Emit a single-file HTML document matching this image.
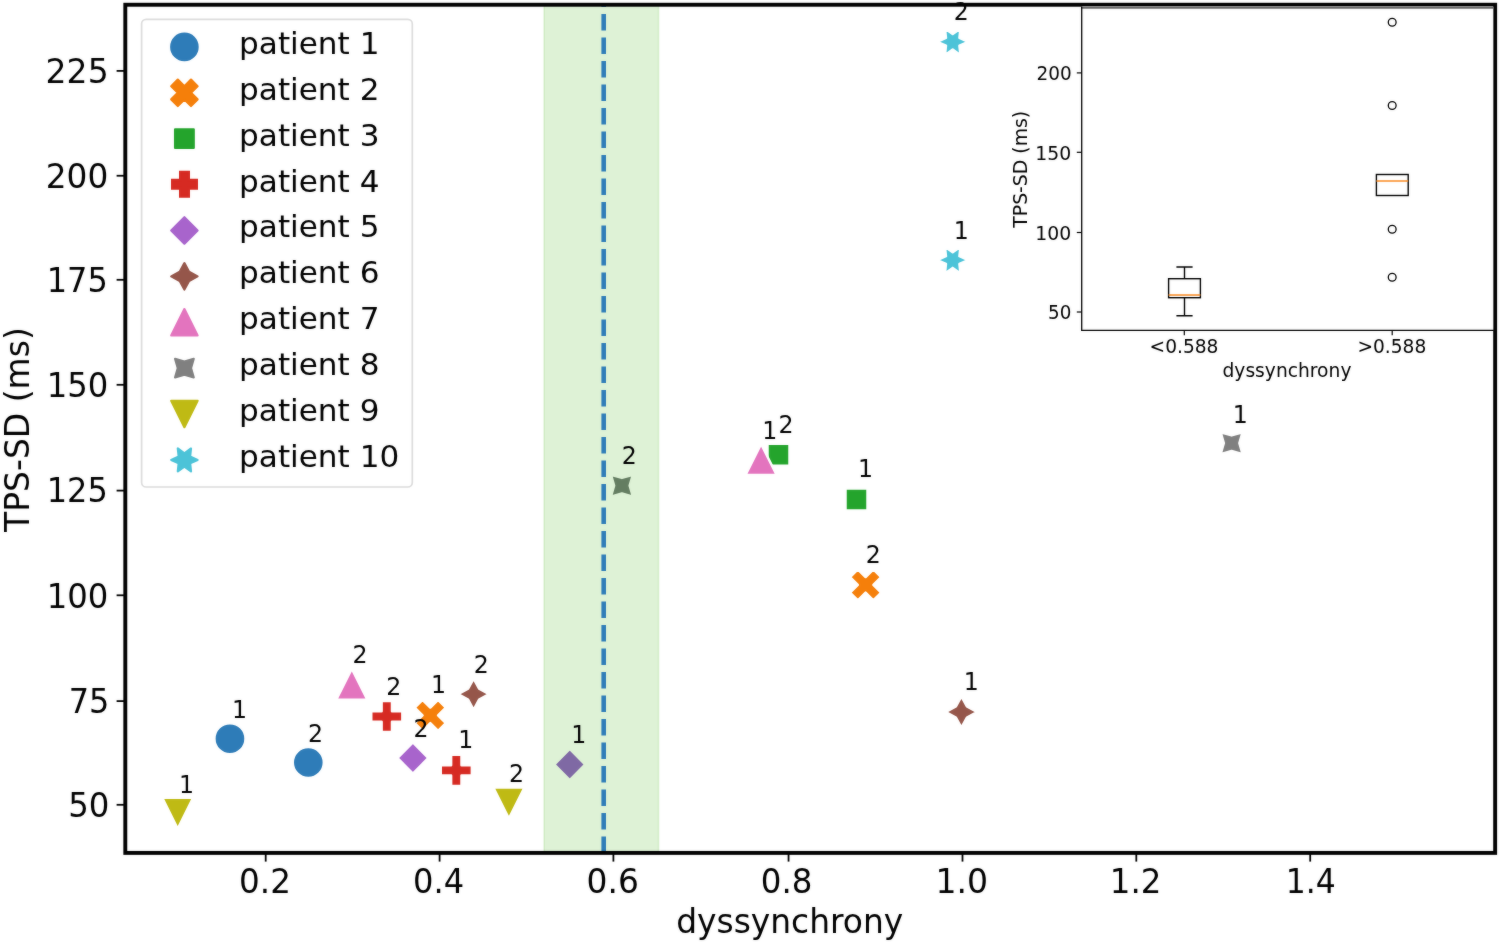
<!DOCTYPE html>
<html lang="en">
<head>
<meta charset="utf-8">
<title>TPS-SD vs dyssynchrony</title>
<style>html,body{margin:0;padding:0;background:#fff;}body{width:1499px;height:948px;overflow:hidden;}svg{display:block;}</style>
</head>
<body>
<svg width="1499" height="948" viewBox="0 0 1499 948" font-family='"DejaVu Sans", "Liberation Sans", sans-serif' fill="#000">
<defs><filter id="soft" x="0" y="0" width="1499" height="948" filterUnits="userSpaceOnUse" color-interpolation-filters="sRGB"><feGaussianBlur in="SourceGraphic" stdDeviation="0.9" result="b"/><feComposite in="b" in2="SourceGraphic" operator="arithmetic" k1="0" k2="0.3" k3="0.7" k4="0"/></filter></defs>
<g filter="url(#soft)">
<rect x="0" y="0" width="1499" height="948" fill="#fff"/>
<g>
<circle cx="229.95" cy="738.70" r="15.55" fill="#2e7cb8" stroke="#fff" stroke-width="2.49" stroke-linejoin="round"/>
<circle cx="308.30" cy="762.50" r="15.55" fill="#2e7cb8" stroke="#fff" stroke-width="2.49" stroke-linejoin="round"/>
<polygon points="422.53,730.85 430.30,723.07 438.07,730.85 445.85,723.07 438.07,715.30 445.85,707.52 438.07,699.75 430.30,707.52 422.53,699.75 414.75,707.52 422.53,715.30 414.75,723.07" fill="#f57f0a" stroke="#fff" stroke-width="2.49" stroke-linejoin="round"/>
<polygon points="857.83,600.35 865.60,592.57 873.38,600.35 881.15,592.57 873.38,584.80 881.15,577.02 873.38,569.25 865.60,577.02 857.83,569.25 850.05,577.02 857.83,584.80 850.05,592.57" fill="#f57f0a" stroke="#fff" stroke-width="2.49" stroke-linejoin="round"/>
<polygon points="845.50,488.40 845.50,510.40 867.50,510.40 867.50,488.40" fill="#24a42c" stroke="#fff" stroke-width="2.49" stroke-linejoin="round"/>
<polygon points="767.50,443.70 767.50,465.70 789.50,465.70 789.50,443.70" fill="#24a42c" stroke="#fff" stroke-width="2.49" stroke-linejoin="round"/>
<polygon points="451.12,785.95 461.48,785.95 461.48,775.58 471.85,775.58 471.85,765.22 461.48,765.22 461.48,754.85 451.12,754.85 451.12,765.22 440.75,765.22 440.75,775.58 451.12,775.58" fill="#d62a22" stroke="#fff" stroke-width="2.49" stroke-linejoin="round"/>
<polygon points="381.62,732.05 391.98,732.05 391.98,721.68 402.35,721.68 402.35,711.32 391.98,711.32 391.98,700.95 381.62,700.95 381.62,711.32 371.25,711.32 371.25,721.68 381.62,721.68" fill="#d62a22" stroke="#fff" stroke-width="2.49" stroke-linejoin="round"/>
<polygon points="569.75,748.95 554.20,764.50 569.75,780.05 585.30,764.50" fill="#8e5bc4" stroke="#fff" stroke-width="2.49" stroke-linejoin="round"/>
<polygon points="412.90,742.45 397.35,758.00 412.90,773.55 428.45,758.00" fill="#a864cc" stroke="#fff" stroke-width="2.49" stroke-linejoin="round"/>
<polygon points="961.40,696.45 955.90,706.50 945.85,712.00 955.90,717.50 961.40,727.55 966.90,717.50 976.95,712.00 966.90,706.50" fill="#95564a" stroke="#fff" stroke-width="2.49" stroke-linejoin="round"/>
<polygon points="473.60,678.65 468.10,688.70 458.05,694.20 468.10,699.70 473.60,709.75 479.10,699.70 489.15,694.20 479.10,688.70" fill="#95564a" stroke="#fff" stroke-width="2.49" stroke-linejoin="round"/>
<polygon points="761.10,443.95 745.55,475.05 776.65,475.05" fill="#e374be" stroke="#fff" stroke-width="2.49" stroke-linejoin="round"/>
<polygon points="351.80,668.65 336.25,699.75 367.35,699.75" fill="#e374be" stroke="#fff" stroke-width="2.49" stroke-linejoin="round"/>
<polygon points="1220.60,432.20 1223.82,443.20 1220.60,454.20 1231.60,450.97 1242.60,454.20 1239.38,443.20 1242.60,432.20 1231.60,435.43" fill="#808080" stroke="#fff" stroke-width="2.49" stroke-linejoin="round"/>
<polygon points="610.90,474.70 614.12,485.70 610.90,496.70 621.90,493.47 632.90,496.70 629.67,485.70 632.90,474.70 621.90,477.93" fill="#6d7374" stroke="#fff" stroke-width="2.49" stroke-linejoin="round"/>
<polygon points="177.70,828.75 193.25,797.65 162.15,797.65" fill="#bfba14" stroke="#fff" stroke-width="2.49" stroke-linejoin="round"/>
<polygon points="508.90,818.65 524.45,787.55 493.35,787.55" fill="#bfba14" stroke="#fff" stroke-width="2.49" stroke-linejoin="round"/>
<polygon points="944.93,246.63 945.97,256.21 937.15,260.10 945.97,263.99 944.93,273.57 952.70,267.88 960.48,273.57 959.43,263.99 968.25,260.10 959.43,256.21 960.48,246.63 952.70,252.33" fill="#4cc3d8" stroke="#fff" stroke-width="2.49" stroke-linejoin="round"/>
<polygon points="944.93,28.38 945.97,37.96 937.15,41.85 945.97,45.74 944.93,55.32 952.70,49.62 960.48,55.32 959.43,45.74 968.25,41.85 959.43,37.96 960.48,28.38 952.70,34.08" fill="#4cc3d8" stroke="#fff" stroke-width="2.49" stroke-linejoin="round"/>
</g>
<rect x="544.0" y="4.75" width="114.6" height="848.1" fill="#37b008" fill-opacity="0.165" stroke="#37b008" stroke-opacity="0.12" stroke-width="1.6"/>
<line x1="603.7" y1="852.9" x2="603.7" y2="4.75" stroke="#2e7cb8" stroke-width="4.6" stroke-dasharray="16.5 7.0"/>
<line x1="265.70" y1="852.9" x2="265.70" y2="861.6" stroke="#000" stroke-width="1.8"/>
<text transform="translate(239.08 893.30) scale(0.9644 1)" font-size="33.8">0.2</text>
<line x1="439.60" y1="852.9" x2="439.60" y2="861.6" stroke="#000" stroke-width="1.8"/>
<text transform="translate(413.01 893.30) scale(0.9500 1)" font-size="33.8">0.4</text>
<line x1="613.40" y1="852.9" x2="613.40" y2="861.6" stroke="#000" stroke-width="1.8"/>
<text transform="translate(586.56 893.30) scale(0.9730 1)" font-size="33.8">0.6</text>
<line x1="788.55" y1="852.9" x2="788.55" y2="861.6" stroke="#000" stroke-width="1.8"/>
<text transform="translate(760.79 893.30) scale(0.9601 1)" font-size="33.8">0.8</text>
<line x1="962.50" y1="852.9" x2="962.50" y2="861.6" stroke="#000" stroke-width="1.8"/>
<text transform="translate(935.46 893.30) scale(0.9785 1)" font-size="33.8">1.0</text>
<line x1="1136.30" y1="852.9" x2="1136.30" y2="861.6" stroke="#000" stroke-width="1.8"/>
<text transform="translate(1109.83 893.30) scale(0.9605 1)" font-size="33.8">1.2</text>
<line x1="1310.20" y1="852.9" x2="1310.20" y2="861.6" stroke="#000" stroke-width="1.8"/>
<text transform="translate(1285.85 893.30) scale(0.9291 1)" font-size="33.8">1.4</text>
<line x1="125.3" y1="70.90" x2="116.6" y2="70.90" stroke="#000" stroke-width="1.8"/>
<text transform="translate(45.61 82.50) scale(0.9772 1)" font-size="33.8">225</text>
<line x1="125.3" y1="175.75" x2="116.6" y2="175.75" stroke="#000" stroke-width="1.8"/>
<text transform="translate(45.72 187.70) scale(0.9695 1)" font-size="33.8">200</text>
<line x1="125.3" y1="279.80" x2="116.6" y2="279.80" stroke="#000" stroke-width="1.8"/>
<text transform="translate(46.68 292.30) scale(0.9467 1)" font-size="33.8">175</text>
<line x1="125.3" y1="384.80" x2="116.6" y2="384.80" stroke="#000" stroke-width="1.8"/>
<text transform="translate(46.65 397.20) scale(0.9546 1)" font-size="33.8">150</text>
<line x1="125.3" y1="490.60" x2="116.6" y2="490.60" stroke="#000" stroke-width="1.8"/>
<text transform="translate(46.68 502.30) scale(0.9467 1)" font-size="33.8">125</text>
<line x1="125.3" y1="595.30" x2="116.6" y2="595.30" stroke="#000" stroke-width="1.8"/>
<text transform="translate(46.65 607.70) scale(0.9546 1)" font-size="33.8">100</text>
<line x1="125.3" y1="701.10" x2="116.6" y2="701.10" stroke="#000" stroke-width="1.8"/>
<text transform="translate(68.66 712.60) scale(0.9451 1)" font-size="33.8">75</text>
<line x1="125.3" y1="804.80" x2="116.6" y2="804.80" stroke="#000" stroke-width="1.8"/>
<text transform="translate(68.19 816.60) scale(0.9583 1)" font-size="33.8">50</text>
<rect x="125.3" y="4.75" width="1369.85" height="848.15" fill="none" stroke="#000" stroke-width="3.9"/>
<text transform="translate(676.19 932.60) scale(0.9971 1)" font-size="33.0">dyssynchrony</text>
<text transform="translate(29.3 429.6) rotate(-90)" font-size="33.0" text-anchor="middle">TPS-SD (ms)</text>
<text transform="translate(231.95 717.80) scale(0.9250 1)" font-size="25.6">1</text>
<text transform="translate(307.93 741.50) scale(0.9250 1)" font-size="25.6">2</text>
<text transform="translate(430.95 693.40) scale(0.9250 1)" font-size="25.6">1</text>
<text transform="translate(865.63 562.70) scale(0.9250 1)" font-size="25.6">2</text>
<text transform="translate(858.05 476.70) scale(0.9250 1)" font-size="25.6">1</text>
<text transform="translate(778.53 433.40) scale(0.9250 1)" font-size="25.6">2</text>
<text transform="translate(458.15 747.70) scale(0.9250 1)" font-size="25.6">1</text>
<text transform="translate(386.33 695.40) scale(0.9250 1)" font-size="25.6">2</text>
<text transform="translate(571.35 743.30) scale(0.9250 1)" font-size="25.6">1</text>
<text transform="translate(413.53 736.70) scale(0.9250 1)" font-size="25.6">2</text>
<text transform="translate(963.85 690.30) scale(0.9250 1)" font-size="25.6">1</text>
<text transform="translate(473.73 672.90) scale(0.9250 1)" font-size="25.6">2</text>
<text transform="translate(762.25 438.50) scale(0.9250 1)" font-size="25.6">1</text>
<text transform="translate(352.53 663.30) scale(0.9250 1)" font-size="25.6">2</text>
<text transform="translate(1232.85 422.50) scale(0.9250 1)" font-size="25.6">1</text>
<text transform="translate(621.73 463.80) scale(0.9250 1)" font-size="25.6">2</text>
<text transform="translate(179.05 792.60) scale(0.9250 1)" font-size="25.6">1</text>
<text transform="translate(508.93 781.50) scale(0.9250 1)" font-size="25.6">2</text>
<text transform="translate(953.65 239.15) scale(0.9250 1)" font-size="25.6">1</text>
<text transform="translate(953.73 20.40) scale(0.9250 1)" font-size="25.6">2</text>
<rect x="141.6" y="19.4" width="270.7" height="467.6" rx="4.5" ry="4.5" fill="#fff" fill-opacity="0.8" stroke="#dcdcdc" stroke-width="1.7"/>
<circle cx="184.40" cy="46.90" r="13.20" fill="#2e7cb8" stroke="#2e7cb8" stroke-width="2.20" stroke-linejoin="round"/>
<text transform="translate(239.10 53.80) scale(1.0034 1)" font-size="31.0">patient 1</text>
<polygon points="177.80,105.99 184.40,99.39 191.00,105.99 197.60,99.39 191.00,92.79 197.60,86.19 191.00,79.59 184.40,86.19 177.80,79.59 171.20,86.19 177.80,92.79 171.20,99.39" fill="#f57f0a" stroke="#f57f0a" stroke-width="2.20" stroke-linejoin="round"/>
<text transform="translate(239.10 99.72) scale(1.0034 1)" font-size="31.0">patient 2</text>
<polygon points="175.06,129.34 175.06,148.02 193.74,148.02 193.74,129.34" fill="#24a42c" stroke="#24a42c" stroke-width="2.20" stroke-linejoin="round"/>
<text transform="translate(239.10 145.64) scale(1.0034 1)" font-size="31.0">patient 3</text>
<polygon points="180.50,196.20 188.50,196.20 188.50,188.20 196.50,188.20 196.50,180.20 188.50,180.20 188.50,172.20 180.50,172.20 180.50,180.20 172.50,180.20 172.50,188.20 180.50,188.20" fill="#d62a22" stroke="#d62a22" stroke-width="3.00" stroke-linejoin="miter"/>
<text transform="translate(239.10 191.56) scale(1.0034 1)" font-size="31.0">patient 4</text>
<polygon points="184.40,217.26 171.20,230.46 184.40,243.66 197.60,230.46" fill="#a864cc" stroke="#a864cc" stroke-width="2.20" stroke-linejoin="round"/>
<text transform="translate(239.10 237.48) scale(1.0034 1)" font-size="31.0">patient 5</text>
<polygon points="184.40,263.15 179.73,271.68 171.20,276.35 179.73,281.02 184.40,289.55 189.07,281.02 197.60,276.35 189.07,271.68" fill="#95564a" stroke="#95564a" stroke-width="2.20" stroke-linejoin="round"/>
<text transform="translate(239.10 283.40) scale(1.0034 1)" font-size="31.0">patient 6</text>
<polygon points="184.40,309.04 171.20,335.44 197.60,335.44" fill="#e374be" stroke="#e374be" stroke-width="2.20" stroke-linejoin="round"/>
<text transform="translate(239.10 329.32) scale(1.0034 1)" font-size="31.0">patient 7</text>
<polygon points="175.06,358.79 177.80,368.13 175.06,377.47 184.40,374.73 193.74,377.47 191.00,368.13 193.74,358.79 184.40,361.53" fill="#808080" stroke="#808080" stroke-width="2.20" stroke-linejoin="round"/>
<text transform="translate(239.10 375.24) scale(1.0034 1)" font-size="31.0">patient 8</text>
<polygon points="184.40,427.22 197.60,400.82 171.20,400.82" fill="#bfba14" stroke="#bfba14" stroke-width="2.20" stroke-linejoin="round"/>
<text transform="translate(239.10 421.16) scale(1.0034 1)" font-size="31.0">patient 9</text>
<polygon points="177.80,448.48 178.68,456.61 171.20,459.91 178.68,463.21 177.80,471.34 184.40,466.51 191.00,471.34 190.12,463.21 197.60,459.91 190.12,456.61 191.00,448.48 184.40,453.31" fill="#4cc3d8" stroke="#4cc3d8" stroke-width="2.20" stroke-linejoin="round"/>
<text transform="translate(239.10 467.08) scale(1.0034 1)" font-size="31.0">patient 10</text>
<rect x="1081.7" y="6.4" width="411.5" height="323.9" fill="#fff"/>
<line x1="1081.05" y1="7.55" x2="1493.2" y2="7.55" stroke="#6a6a6a" stroke-width="2.3"/>
<path d="M1081.7 7.1V330.3H1493.2" fill="none" stroke="#000" stroke-width="1.3" stroke-linecap="square"/>
<line x1="1081.7" y1="72.90" x2="1076.8" y2="72.90" stroke="#000" stroke-width="1.2"/>
<text transform="translate(1036.46 79.90) scale(0.9331 1)" font-size="19.8">200</text>
<line x1="1081.7" y1="152.30" x2="1076.8" y2="152.30" stroke="#000" stroke-width="1.2"/>
<text transform="translate(1035.33 159.50) scale(0.9503 1)" font-size="19.8">150</text>
<line x1="1081.7" y1="232.50" x2="1076.8" y2="232.50" stroke="#000" stroke-width="1.2"/>
<text transform="translate(1035.33 239.60) scale(0.9503 1)" font-size="19.8">100</text>
<line x1="1081.7" y1="312.00" x2="1076.8" y2="312.00" stroke="#000" stroke-width="1.2"/>
<text transform="translate(1048.08 319.20) scale(0.9252 1)" font-size="19.8">50</text>
<line x1="1184.3" y1="330.3" x2="1184.3" y2="335.2" stroke="#000" stroke-width="1.2"/>
<text transform="translate(1149.54 353.20) scale(0.9650 1)" font-size="19.3">&lt;0.588</text>
<line x1="1392.2" y1="330.3" x2="1392.2" y2="335.2" stroke="#000" stroke-width="1.2"/>
<text transform="translate(1357.45 353.20) scale(0.9636 1)" font-size="19.3">&gt;0.588</text>
<text transform="translate(1222.47 376.80) scale(0.9892 1)" font-size="18.9">dyssynchrony</text>
<text transform="translate(1027.0 169.3) rotate(-90) scale(0.951 1)" font-size="19.8" text-anchor="middle">TPS-SD (ms)</text>
<rect x="1168.6" y="278.7" width="31.8" height="19.0" fill="none" stroke="#000" stroke-width="1.4"/><path d="M1184.5 278.7V267.0M1176.4 267.0H1192.6M1184.5 297.7V315.8M1176.4 315.8H1192.6" fill="none" stroke="#000" stroke-width="1.4"/><line x1="1168.6" y1="295.0" x2="1200.4" y2="295.0" stroke="#fa8a20" stroke-width="1.5"/>
<rect x="1376.4" y="174.5" width="31.8" height="21.0" fill="none" stroke="#000" stroke-width="1.4"/><line x1="1376.4" y1="181.0" x2="1408.2" y2="181.0" stroke="#fa8a20" stroke-width="1.5"/>
<circle cx="1392.2" cy="22.2" r="3.9" fill="none" stroke="#000" stroke-width="1.3"/>
<circle cx="1392.2" cy="105.5" r="3.9" fill="none" stroke="#000" stroke-width="1.3"/>
<circle cx="1392.2" cy="229.2" r="3.9" fill="none" stroke="#000" stroke-width="1.3"/>
<circle cx="1392.2" cy="277.2" r="3.9" fill="none" stroke="#000" stroke-width="1.3"/>
</g>
</svg>
</body>
</html>
